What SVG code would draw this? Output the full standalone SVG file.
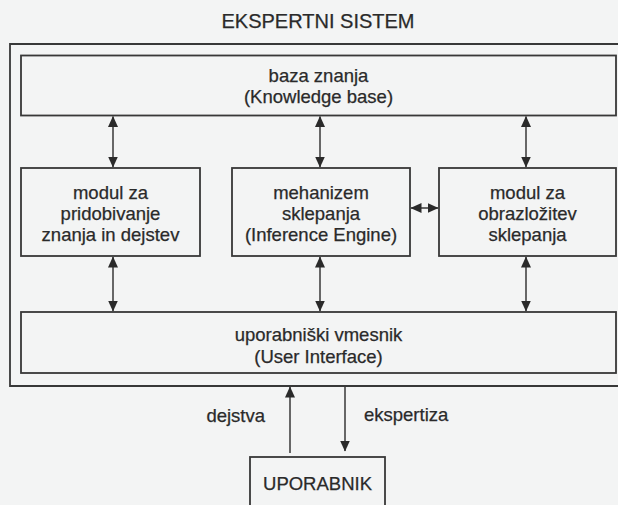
<svg xmlns="http://www.w3.org/2000/svg" width="618" height="505" viewBox="0 0 618 505">
<style>
.box{fill:none;stroke:#383838;stroke-width:1.8}
.t{font-family:"Liberation Sans",Arial,sans-serif;font-size:18.5px;fill:#2a2a2a;stroke:#2a2a2a;stroke-width:0.25;text-anchor:middle}
.c{stroke:#383838;stroke-width:1.5;fill:none}
</style>
<defs>
<marker id="ah" viewBox="0 0 11 10" refX="10.5" refY="5" markerWidth="11" markerHeight="10" markerUnits="userSpaceOnUse" orient="auto-start-reverse">
<path d="M0,0 L11,5 L0,10 z" fill="#2a2a2a"/>
</marker>
</defs>
<rect x="0" y="0" width="618" height="505" fill="#f3f4f4"/>
<text class="t" x="318" y="28" style="font-size:20px">EKSPERTNI SISTEM</text>
<g id="outer">
<path class="box" d="M625,44 L10,44 L10,386 L625,386"/>
</g>
<g id="baza">
<rect class="box" x="21" y="55.5" width="595" height="60"/>
<text class="t" x="318.5" y="82">baza znanja</text>
<text class="t" x="318.5" y="103">(Knowledge base)</text>
</g>
<g id="modul1">
<rect class="box" x="21" y="168" width="179" height="88"/>
<text class="t" x="110.5" y="199">modul za</text>
<text class="t" x="110.5" y="220">pridobivanje</text>
<text class="t" x="110.5" y="241">znanja in dejstev</text>
</g>
<g id="mehanizem">
<rect class="box" x="232" y="168" width="178" height="88"/>
<text class="t" x="321" y="199">mehanizem</text>
<text class="t" x="321" y="220">sklepanja</text>
<text class="t" x="321" y="241">(Inference Engine)</text>
</g>
<g id="modul2">
<rect class="box" x="439" y="168" width="177" height="88"/>
<text class="t" x="527.5" y="199">modul za</text>
<text class="t" x="527.5" y="220">obrazložitev</text>
<text class="t" x="527.5" y="241">sklepanja</text>
</g>
<g id="ui">
<rect class="box" x="21" y="312" width="595" height="61"/>
<text class="t" x="318.5" y="341">uporabniški vmesnik</text>
<text class="t" x="318.5" y="363">(User Interface)</text>
</g>
<g id="uporabnik">
<rect class="box" x="250" y="457" width="135" height="60"/>
<text class="t" x="317.5" y="490">UPORABNIK</text>
</g>
<g id="connectors">
<line class="c" x1="113" y1="116.5" x2="113" y2="167" marker-start="url(#ah)" marker-end="url(#ah)"/>
<line class="c" x1="320" y1="116.5" x2="320" y2="167" marker-start="url(#ah)" marker-end="url(#ah)"/>
<line class="c" x1="526" y1="116.5" x2="526" y2="167" marker-start="url(#ah)" marker-end="url(#ah)"/>
<line class="c" x1="113" y1="257" x2="113" y2="311" marker-start="url(#ah)" marker-end="url(#ah)"/>
<line class="c" x1="320" y1="257" x2="320" y2="311" marker-start="url(#ah)" marker-end="url(#ah)"/>
<line class="c" x1="526" y1="257" x2="526" y2="311" marker-start="url(#ah)" marker-end="url(#ah)"/>
<line class="c" x1="411" y1="208" x2="438" y2="208" marker-start="url(#ah)" marker-end="url(#ah)"/>
<line class="c" x1="290" y1="453" x2="290" y2="387" marker-end="url(#ah)"/>
<line class="c" x1="345" y1="387" x2="345" y2="451" marker-end="url(#ah)"/>
<text class="t" x="265" y="422" style="text-anchor:end">dejstva</text>
<text class="t" x="364" y="421" style="text-anchor:start">ekspertiza</text>
</g>
</svg>
